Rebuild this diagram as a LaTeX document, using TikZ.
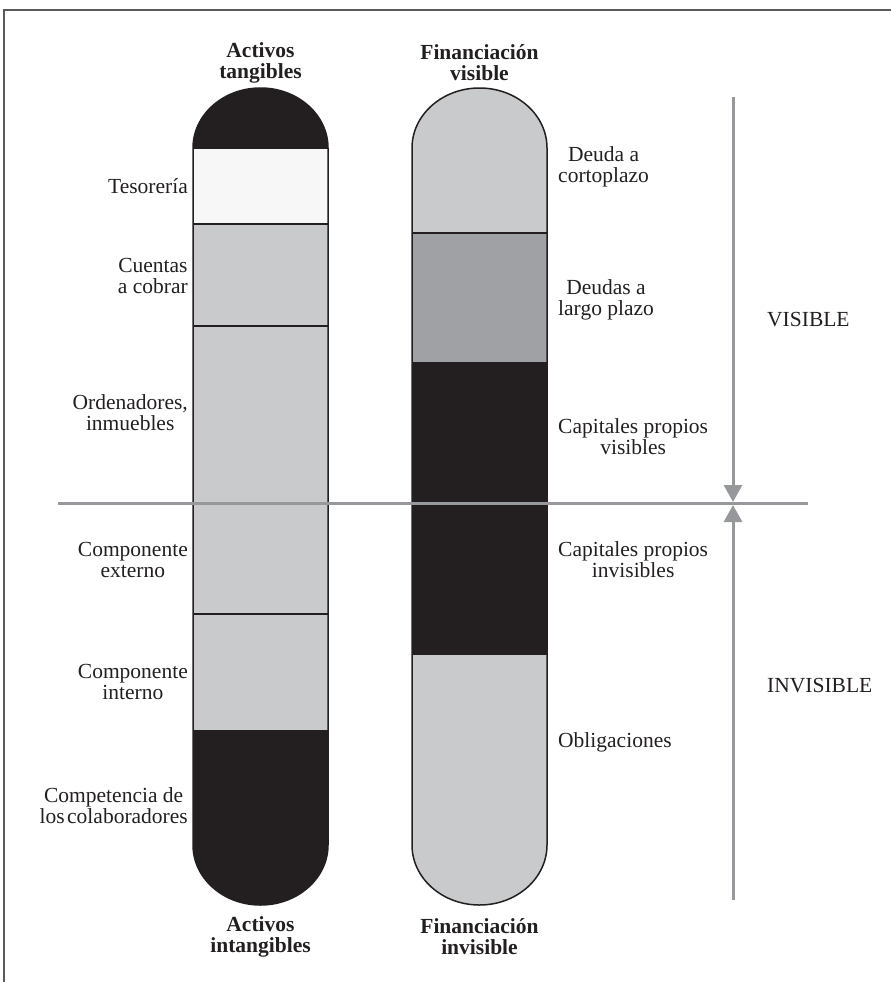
\documentclass[tikz,border=0pt]{standalone}
\usepackage{fontspec}
\setmainfont{Liberation Serif}
\usetikzlibrary{arrows.meta}
\definecolor{ink}{HTML}{231F20}
\definecolor{lgray}{HTML}{C9CACC}
\definecolor{mgray}{HTML}{A0A1A4}
\definecolor{wgray}{HTML}{F7F7F7}
\definecolor{agray}{HTML}{97989B}
\definecolor{framec}{HTML}{5A5A5A}
\begin{document}
\begin{tikzpicture}[x=1pt,y=-1pt,
  lbl/.style={font=\fontsize{21.5}{21}\selectfont, align=center, inner sep=0pt, text=ink},
  hdr/.style={font=\fontsize{21.5}{21}\selectfont\bfseries, align=center, inner sep=0pt, text=ink},
  sidelbl/.style={lbl, anchor=east},
  rightlbl/.style={lbl, anchor=west},
  bound/.style={draw=ink, line width=1.2pt},
  outline/.style={draw=ink, line width=1.5pt},
  guide/.style={draw=agray, line width=3pt},
  tip/.style={-{Triangle[length=17pt,width=18pt]}, draw=agray, fill=agray, line width=3pt},
  framel/.style={draw=framec, line width=1.5pt}]
\useasboundingbox (0,0) rectangle (891,982);

% frame
\coordinate (fb) at (4,982);
\coordinate (fc) at (4,10);
\coordinate (fr) at (891,10);
\draw[framel] (fb) -- (fc) -- (fr);

% left column
\def\leftcol{(193,845) -- (193,148) arc[start angle=180,end angle=0,x radius=67.5pt,y radius=60pt] -- (328,845) arc[start angle=0,end angle=-180,x radius=67.5pt,y radius=60pt] -- cycle}
\begin{scope}
\clip \leftcol;
\fill[ink] (180,70) rectangle (340,148);
\fill[wgray] (180,148) rectangle (340,224);
\fill[lgray] (180,224) rectangle (340,730);
\fill[ink] (180,730) rectangle (340,920);
\end{scope}
\draw[bound] (193,148) -- (328,148);
\draw[bound] (193,224) -- (328,224);
\draw[bound] (193,326) -- (328,326);
\draw[bound] (193,614) -- (328,614);
\draw[outline] \leftcol;

% right column
\def\rightcol{(412,845) -- (412,148) arc[start angle=180,end angle=0,x radius=67.5pt,y radius=60pt] -- (547,845) arc[start angle=0,end angle=-180,x radius=67.5pt,y radius=60pt] -- cycle}
\begin{scope}
\clip \rightcol;
\fill[lgray] (400,70) rectangle (560,233);
\fill[mgray] (400,233) rectangle (560,363);
\fill[ink] (400,363) rectangle (560,654);
\fill[lgray] (400,654) rectangle (560,920);
\end{scope}
\draw[bound] (412,233) -- (547,233);
\draw[bound] (412,363) -- (547,363);
\draw[bound] (412,654) -- (547,654);
\draw[outline] \rightcol;

% horizontal divider and arrows
\coordinate (hl) at (58,503);
\coordinate (hr) at (808,503);
\draw[guide] (hl) -- (hr);
\coordinate (vt) at (733,97);
\coordinate (vmt) at (733,502);
\coordinate (vmb) at (733,505);
\coordinate (vb) at (733,900);
\draw[tip] (vt) -- (vmt);
\draw[tip] (vb) -- (vmb);

% headers
\node[hdr] (hat) at (260.5,63) {Activos\\tangibles};
\node[hdr] (hfv) at (479.5,63) {Financiación\\visible};
\node[hdr] (hai) at (260.5,937) {Activos\\intangibles};
\node[hdr] (hfi) at (479.5,937) {Financiación\\invisible};

% left labels
\node[sidelbl] (tes) at (188,186) {Tesorería};
\node[sidelbl] (cue) at (188,276) {Cuentas\\a cobrar};
\node[sidelbl] (ord) at (188,413) {Ordenadores,\\inmuebles};
\node[sidelbl] (cext) at (188,560) {Componente\\externo};
\node[sidelbl] (cint) at (188,682) {Componente\\interno};
\node[sidelbl] (comp) at (188,806) {Competencia de\\los\hspace{0.12em}colaboradores};

% right labels
\node[rightlbl] (deu) at (558,167) {Deuda a\\cortoplazo};
\node[rightlbl] (dlp) at (558,300) {Deudas a\\largo plazo};
\node[rightlbl] (cpv) at (558,437) {Capitales propios\\visibles};
\node[rightlbl] (cpi) at (558,560) {Capitales propios\\invisibles};
\node[rightlbl] (obl) at (558,742) {Obligaciones};

% side labels
\node[rightlbl] (vis) at (767,320) {VISIBLE};
\node[rightlbl] (inv) at (767,686) {INVISIBLE};
\end{tikzpicture}
\end{document}
